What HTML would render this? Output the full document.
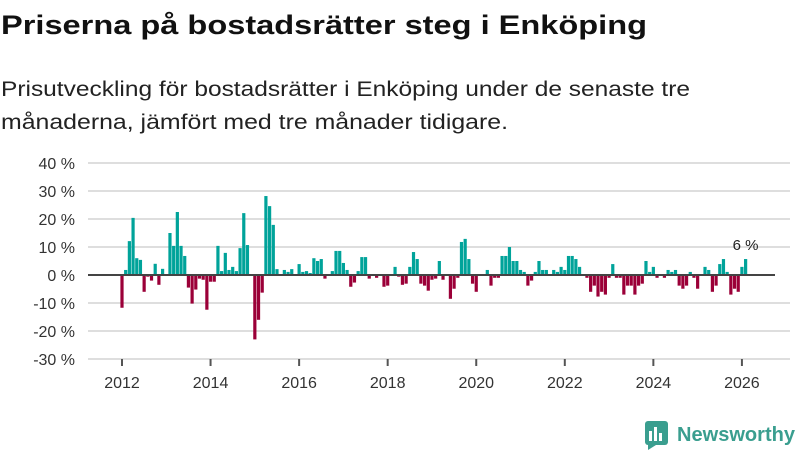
<!DOCTYPE html>
<html><head><meta charset="utf-8"><style>
html,body{margin:0;padding:0;background:#fff;}
svg{display:block;font-family:"Liberation Sans",sans-serif;}
</style></head><body>
<svg id="chart" width="800" height="450" viewBox="0 0 800 450">
<text x="1" y="34" font-size="27" font-weight="bold" fill="#111" textLength="646" lengthAdjust="spacingAndGlyphs">Priserna på bostadsrätter steg i Enköping</text>
<text x="1" y="96" font-size="21" fill="#222" textLength="689" lengthAdjust="spacingAndGlyphs">Prisutveckling för bostadsrätter i Enköping under de senaste tre</text>
<text x="1" y="129" font-size="21" fill="#222" textLength="507" lengthAdjust="spacingAndGlyphs">månaderna, jämfört med tre månader tidigare.</text>
<g id="grid"></g>
<g id="bars"></g>
<g id="axes"></g>
<g>
<rect x="645" y="421" width="23" height="24" rx="3" fill="#3a9e8f"/>
<rect x="649" y="431" width="3" height="10" fill="#fff"/>
<rect x="654" y="427" width="3" height="14" fill="#fff"/>
<rect x="659" y="433" width="3" height="8" fill="#fff"/>
<polygon points="648,445 656,445 648,450" fill="#3a9e8f"/>
<text x="677" y="441" font-size="20" font-weight="bold" fill="#3a9e8f" textLength="118" lengthAdjust="spacingAndGlyphs">Newsworthy</text>
</g>
</svg>
<script>
const startYear = 2012;
const values = [-11.7,1.8,12.1,20.4,6,5.4,-6,-0.6,-2,4,
-3.5,2.2,0,15,10.4,22.5,10.4,6.8,-4.5,-10.2,
-5.2,-1.3,-1.7,-12.4,-2.4,-2.4,10.4,1.4,7.9,1.8,
2.9,1.4,9.6,22.1,10.7,0,-23,-16,-6.3,28.2,
24.6,17.9,2.1,0,1.8,1.1,2.1,0,3.9,1.1,
1.4,0.7,6,5,5.7,-1.3,0,1.4,8.6,8.6,
4.3,1.8,-4.2,-2.7,1.4,6.4,6.4,-1.3,0,-1,
0,-4.2,-3.8,0,2.9,-0.6,-3.5,-3.1,2.9,8.2,
5.7,-3.1,-3.8,-5.6,-1.7,-1.3,5,-1.7,0,-8.5,
-4.9,-1,11.8,12.9,5.7,-3.1,-6,0,0,1.8,
-3.8,-1,-1,6.8,6.8,10,5,5,1.8,1.1,
-3.8,-2,1.1,5,1.8,1.8,0,1.8,1.1,2.9,
1.8,6.8,6.8,5.7,2.9,0,-1,-6,-3.8,-7.7,
-6,-7,-1,3.9,-1,-1,-7,-3.8,-3.8,-7,
-3.8,-3.1,5,1.1,2.9,-1,0,-1,1.8,1.1,
1.8,-3.8,-4.9,-3.8,1.1,-1,-4.9,0,2.9,1.8,
-6,-3.8,3.9,5.7,1.1,-7,-4.9,-6,2.9,5.7];
const yTicks = [40,30,20,10,0,-10,-20,-30];
const xTicks = [2012,2014,2016,2018,2020,2022,2024,2026];
const lastLabel = "6 %";

const NS="http://www.w3.org/2000/svg";
function x(i){return 122+i*3.69;}
function xYear(yr){return x((yr-startYear)*12);}
function y(v){return 275-v*2.8;}
function mk(tag,attrs,parent){const e=document.createElementNS(NS,tag);for(const k in attrs)e.setAttribute(k,attrs[k]);parent.appendChild(e);return e;}
const grid=document.getElementById('grid'),bars=document.getElementById('bars'),axes=document.getElementById('axes');
yTicks.forEach(t=>{
  if(t!==0){const l=mk('line',{x1:88,x2:790,y1:y(t),y2:y(t),stroke:'#dedede','stroke-width':2},grid);
  
  }
  const tx=mk('text',{x:75,y:y(t)+6,'font-size':16,fill:'#333','text-anchor':'end'},axes);
  tx.textContent=t+' %';
  
  
});
values.forEach((v,i)=>{
  const r=mk('rect',{x:x(i)-1.6,width:3.2,y:Math.min(y(v),275),height:Math.abs(y(v)-275),fill:v>=0?'#00a39a':'#9b0038'},bars);
  
  
});
const z=mk('line',{x1:88,x2:775,y1:275,y2:275,stroke:'#444','stroke-width':2},axes);


xTicks.forEach(yr=>{
  const xx=xYear(yr);
  const tk=mk('line',{x1:xx,x2:xx,y1:359,y2:366,stroke:'#555','stroke-width':2},axes);
  
  
  const tx=mk('text',{x:xx,y:388,'font-size':16,fill:'#333','text-anchor':'middle'},axes);
  tx.textContent=yr;
  
  
});
const li=values.length-1;
const lab=mk('text',{x:x(li),y:y(values[li])-9,'font-size':15,fill:'#222','text-anchor':'middle'},axes);
lab.textContent=lastLabel;


</script>
</body></html>
